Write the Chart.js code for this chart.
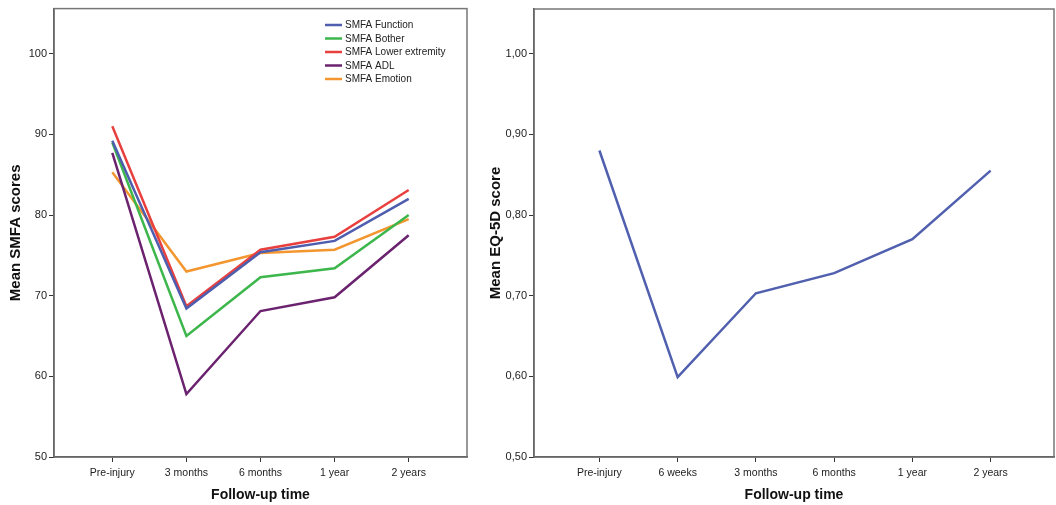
<!DOCTYPE html>
<html>
<head>
<meta charset="utf-8">
<script src="https://cdn.jsdelivr.net/npm/chart.js@4/dist/chart.umd.min.js"></script>
<style>
  html, body { margin: 0; padding: 0; background: #fff; }
  #wrap { position: relative; width: 1056px; height: 505px; }
  canvas { position: absolute; top: 0; }
  #smfaCanvas { left: 0; }
  #eqCanvas { left: 480px; }
</style>
</head>
<body>
<div id="wrap">
  <canvas id="smfaCanvas" width="476" height="505"></canvas>
  <canvas id="eqCanvas" width="576" height="505"></canvas>
</div>
<script>
// left chart data
const smfaLabels = ['Pre-injury', '3 months', '6 months', '1 year', '2 years'];
const smfaFunction = [89.2, 68.4, 75.4, 76.8, 82.0];
const smfaBother = [89.0, 65.0, 72.3, 73.4, 80.0];
const smfaLowerExt = [91.0, 68.7, 75.7, 77.3, 83.1];
const smfaADL = [87.7, 57.8, 68.1, 69.8, 77.5];
const smfaEmotion = [85.3, 73.0, 75.3, 75.7, 79.5];
const smfaTicks = [50, 60, 70, 80, 90, 100];

// right chart data
const eqLabels = ['Pre-injury', '6 weeks', '3 months', '6 months', '1 year', '2 years'];
const eq5d = [0.880, 0.599, 0.703, 0.728, 0.770, 0.855];
const eqTicks = [0.5, 0.6, 0.7, 0.8, 0.9, 1.0];

const fontFamily = '"Liberation Sans", Arial, sans-serif';

function toPoints(values) {
    return values.map((v, i) => ({ x: i, y: v }));
}

// box round the plot area, SPSS style
const frame = {
    id: 'frame',
    beforeDatasetsDraw(chart) {
        const { ctx, chartArea: a } = chart;
        ctx.save();
        ctx.strokeStyle = '#777';
        ctx.lineWidth = 1.5;
        ctx.strokeRect(a.left, a.top, a.right - a.left, a.bottom - a.top);
        ctx.restore();
    }
};

// legend drawn inside the plot, top right
const innerLegend = {
    id: 'innerLegend',
    afterDatasetsDraw(chart) {
        if (!chart.options.plugins.innerLegend) return;
        const { ctx, chartArea: a } = chart;
        const x0 = a.right - 142;
        ctx.save();
        ctx.font = '10px ' + fontFamily;
        ctx.textBaseline = 'middle';
        chart.data.datasets.forEach((ds, i) => {
            const y = 25 + i * 13.5;
            ctx.strokeStyle = ds.borderColor;
            ctx.lineWidth = 2.5;
            ctx.beginPath();
            ctx.moveTo(x0, y);
            ctx.lineTo(x0 + 17, y);
            ctx.stroke();
            ctx.fillStyle = '#222';
            ctx.fillText(ds.label, x0 + 20, y + 0.5);
        });
        ctx.restore();
    }
};

function lineSet(label, values, color) {
    return {
        label: label,
        data: toPoints(values),
        borderColor: color,
        borderWidth: 2.5,
        pointRadius: 0,
        tension: 0,
        fill: false
    };
}

function makeOptions(cfg) {
    return {
        responsive: false,
        animation: false,
        layout: { padding: { top: cfg.top, right: cfg.right, left: 0, bottom: 0 } },
        plugins: {
            legend: { display: false },
            tooltip: { enabled: false },
            innerLegend: cfg.legend
        },
        scales: {
            x: {
                type: 'linear',
                min: cfg.xMin,
                max: cfg.xMax,
                afterBuildTicks: (scale) => {
                    scale.ticks = cfg.labels.map((l, i) => ({ value: i }));
                },
                afterFit: (scale) => { scale.height = 505 - cfg.bottom; },
                ticks: {
                    autoSkip: false,
                    maxRotation: 0,
                    color: '#222',
                    padding: 5,
                    font: { family: fontFamily, size: 10.5 },
                    callback: (v) => cfg.labels[v]
                },
                grid: { drawOnChartArea: false, drawTicks: true, tickLength: 5, color: '#333' },
                border: { display: true, color: '#333', width: 1.5 },
                title: {
                    display: true,
                    text: 'Follow-up time',
                    color: '#111',
                    padding: { top: 4, bottom: 1 },
                    font: { family: fontFamily, size: 14, weight: 'bold' }
                }
            },
            y: {
                min: cfg.yMin,
                max: cfg.yMax,
                afterBuildTicks: (scale) => {
                    scale.ticks = cfg.yTicks.map(v => ({ value: v }));
                },
                afterFit: (scale) => { scale.width = cfg.left; },
                ticks: {
                    color: '#222',
                    padding: 2,
                    font: { family: fontFamily, size: 11 },
                    callback: cfg.yFormat
                },
                grid: { drawOnChartArea: false, drawTicks: true, tickLength: 5, color: '#333' },
                border: { display: true, color: '#333', width: 1.5 },
                title: {
                    display: true,
                    text: cfg.yTitle,
                    color: '#111',
                    padding: { top: 7, bottom: 0 },
                    font: { family: fontFamily, size: 15, weight: 'bold' }
                }
            }
        }
    };
}

new Chart(document.getElementById('smfaCanvas').getContext('2d'), {
    type: 'line',
    data: {
        datasets: [
            lineSet('SMFA Function', smfaFunction, '#4E5DAE'),
            lineSet('SMFA Bother', smfaBother, '#3DB64C'),
            lineSet('SMFA Lower extremity', smfaLowerExt, '#E8403F'),
            lineSet('SMFA ADL', smfaADL, '#6B236F'),
            lineSet('SMFA Emotion', smfaEmotion, '#F3962F')
        ]
    },
    options: makeOptions({
        labels: smfaLabels, xMin: -0.787, xMax: 4.787,
        yMin: 50, yMax: 105.6, yTicks: smfaTicks,
        yFormat: (v) => String(v),
        yTitle: 'Mean SMFA scores',
        top: 8, right: 9, left: 54, bottom: 457, legend: true
    }),
    plugins: [frame, innerLegend]
});

new Chart(document.getElementById('eqCanvas').getContext('2d'), {
    type: 'line',
    data: {
        datasets: [lineSet('EQ-5D', eq5d, '#5060AF')]
    },
    options: makeOptions({
        labels: eqLabels, xMin: -0.836, xMax: 5.81,
        yMin: 0.5, yMax: 1.0554, yTicks: eqTicks,
        yFormat: (v) => v.toFixed(2).replace('.', ','),
        yTitle: 'Mean EQ-5D score',
        top: 9, right: 2, left: 54, bottom: 457, legend: false
    }),
    plugins: [frame, innerLegend]
});
</script>
</body>
</html>
